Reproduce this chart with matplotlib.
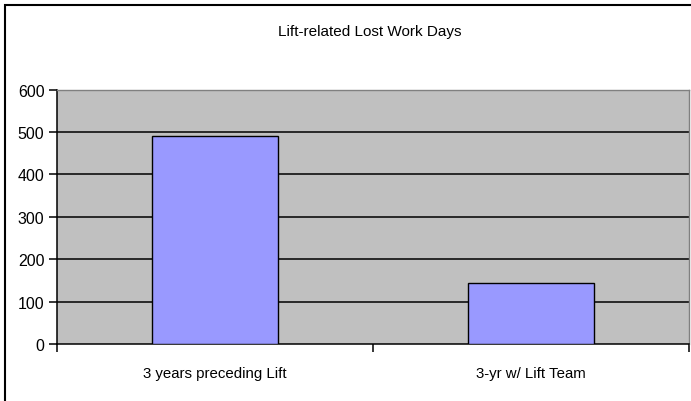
import matplotlib
matplotlib.use("Agg")
import matplotlib.pyplot as plt
from matplotlib.patches import Rectangle

plt.rcParams['font.family'] = ['Liberation Sans', 'DejaVu Sans']

categories = ["3 years preceding Lift", "3-yr w/ Lift Team"]
values = [490, 145]
yticks = [0, 100, 200, 300, 400, 500, 600]
title = "Lift-related Lost Work Days"

W, H = 691, 402
fig = plt.figure(figsize=(W / 100, H / 100), dpi=100)
fig.patch.set_facecolor('white')

# figure border (cut at right/bottom)
fig.patches.append(Rectangle((5 / W, -0.05), 1.1, 1 - 6 / H + 0.05, transform=fig.transFigure,
                             fill=False, edgecolor='black', linewidth=1.5, clip_on=False))

left, right, top, bottom = 57, 689, 90.7, 345
ax = fig.add_axes([left / W, 1 - bottom / H, (right - left) / W, (bottom - top) / H])
ax.set_facecolor('#C0C0C0')

x = list(range(len(categories)))
ax.bar(x, values, width=0.4, color='#9999FF', edgecolor='black', linewidth=1.0, zorder=3)

ax.set_xlim(-0.5, len(categories) - 0.5)
ax.set_ylim(0, 600)
ax.set_yticks(yticks)
ax.set_yticklabels([str(v) for v in yticks], fontsize=11.5)
for v in yticks[1:-1]:
    ax.axhline(v, color='black', linewidth=1.1, zorder=2)

ax.set_xticks([i - 0.5 for i in range(len(categories) + 1)])
ax.set_xticklabels([])
ax.set_xticks(x, minor=True)
ax.set_xticklabels(categories, minor=True, fontsize=10.8)
ax.tick_params(axis='x', which='minor', length=0, pad=16)
ax.tick_params(axis='x', which='major', length=6, width=1.1, direction='out', color='black')
ax.tick_params(axis='y', length=6, width=1.1, direction='out', color='black', pad=3)

ax.spines['left'].set_color('black')
ax.spines['left'].set_linewidth(1.1)
ax.spines['bottom'].set_color('black')
ax.spines['bottom'].set_linewidth(1.1)
ax.spines['top'].set_color('#808080')
ax.spines['top'].set_linewidth(1.0)
ax.spines['right'].set_color('#808080')
ax.spines['right'].set_linewidth(1.0)

fig.text(0.5 * (left + right) / W - 0.005, 1 - 32 / H, title, ha='center', va='center', fontsize=11)

fig.savefig("out.png", dpi=100)
